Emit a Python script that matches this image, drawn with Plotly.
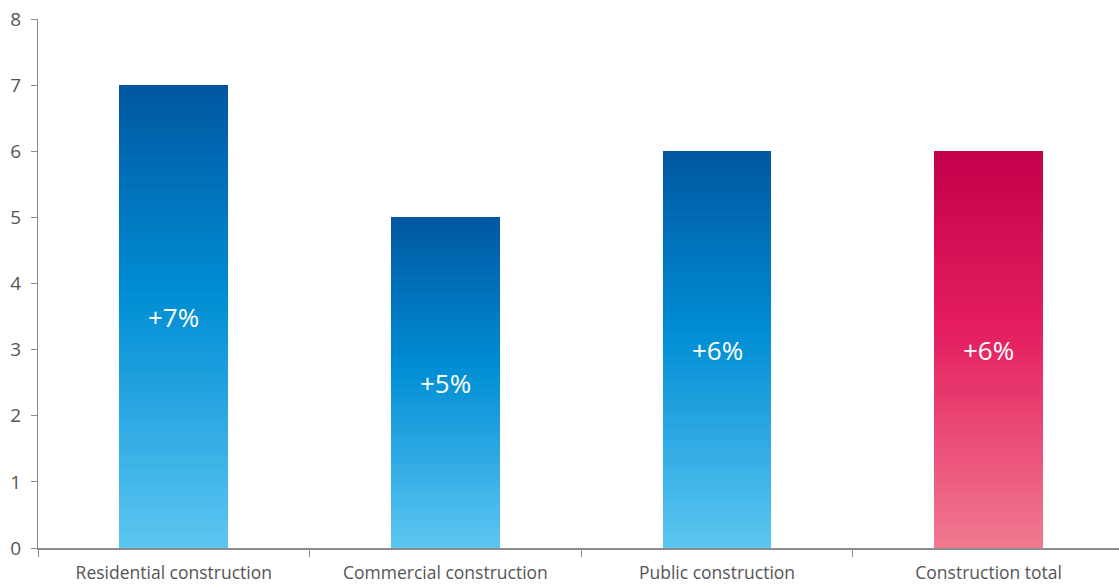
import plotly.graph_objects as go

categories = ["Residential construction", "Commercial construction", "Public construction", "Construction total"]
values = [7, 5, 6, 6]
labels = ["+7%", "+5%", "+6%", "+6%"]
palettes = ["blue", "blue", "blue", "pink"]

# gradient stops (t=0 bottom, t=1 top)
GRAD = {
    "blue": [(0.0, (92, 198, 241)), (0.55, (0, 141, 212)), (1.0, (0, 87, 160))],
    "pink": [(0.0, (240, 122, 144)), (0.55, (228, 30, 95)), (1.0, (196, 0, 75))],
}

def color_at(name, t):
    stops = GRAD[name]
    for (t0, c0), (t1, c1) in zip(stops[:-1], stops[1:]):
        if t <= t1:
            f = (t - t0) / (t1 - t0) if t1 > t0 else 0
            c = [round(a + (b - a) * f) for a, b in zip(c0, c1)]
            return "rgb(%d,%d,%d)" % tuple(c)
    return "rgb(%d,%d,%d)" % stops[-1][1]

N = 80
fig = go.Figure()
for i in range(N):
    t = (i + 0.5) / N
    fig.add_trace(go.Bar(
        x=categories,
        y=[v / N for v in values],
        marker=dict(color=[color_at(p, t) for p in palettes], line=dict(width=0)),
        width=0.4,
        hoverinfo="skip",
        showlegend=False,
    ))

for c, v, lab in zip(categories, values, labels):
    fig.add_annotation(x=c, y=v / 2, text=lab, showarrow=False,
                       font=dict(family="Open Sans", size=26, color="white"))

fig.update_layout(
    barmode="stack",
    bargap=0,
    width=1119, height=585,
    margin=dict(l=38, r=0, t=19, b=37),
    plot_bgcolor="white", paper_bgcolor="white",
    font=dict(family="Open Sans", color="#555555"),
)
fig.update_xaxes(
    range=[-0.5, 3.48],
    showline=True, linecolor="#8c8c8c", linewidth=1.5,
    ticks="outside", tickson="boundaries", ticklen=7, tickcolor="#8c8c8c",
    tickfont=dict(size=17.5, color="#555555"),
    ticklabelstandoff=8,
    showgrid=False, zeroline=False,
)
fig.update_yaxes(
    range=[0, 8], dtick=1,
    showline=True, linecolor="#8c8c8c", linewidth=1,
    ticks="outside", ticklen=6, tickcolor="#8c8c8c",
    tickfont=dict(size=19, color="#555555"),
    ticklabelstandoff=6,
    showgrid=False, zeroline=False,
)

fig.write_html("out.html")
